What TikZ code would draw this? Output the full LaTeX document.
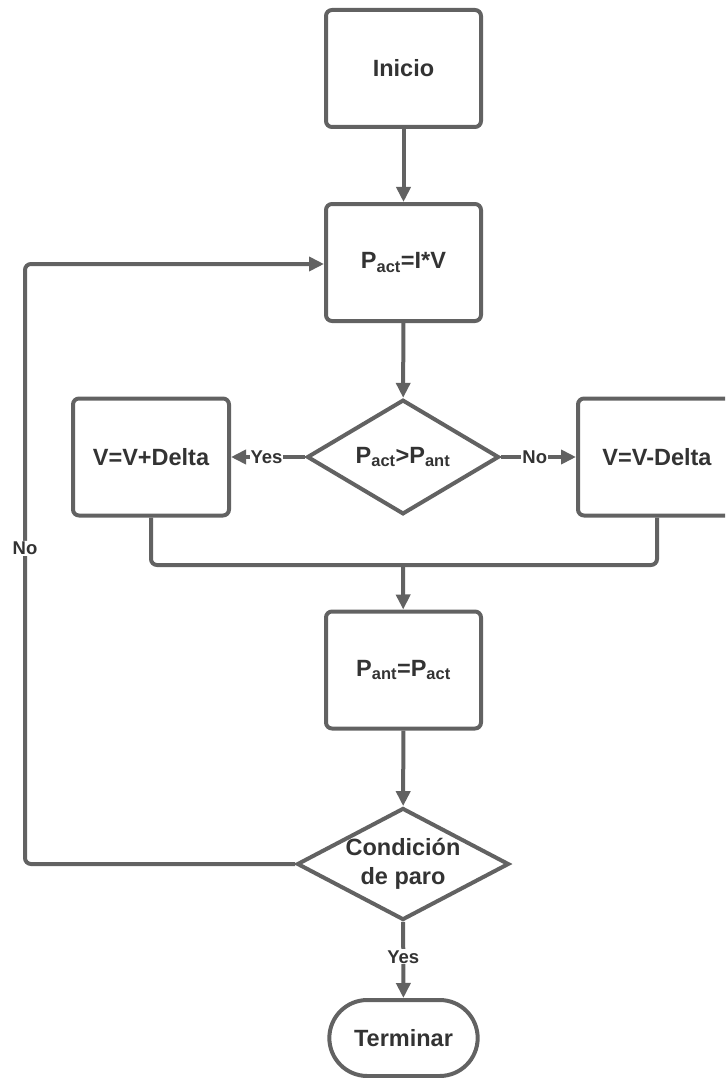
\documentclass[tikz,border=0pt]{standalone}
\usepackage{fontspec}
\setmainfont{Liberation Sans}
\usetikzlibrary{arrows.meta,shapes.geometric,shapes.misc}
\definecolor{linegray}{HTML}{626262}
\definecolor{textgray}{HTML}{333333}

\begin{document}
\begin{tikzpicture}[x=1pt,y=-1pt,
  line width=4pt, draw=linegray,
  >={Triangle[length=15pt,width=14pt]},
  every node/.style={font=\fontsize{23.5}{27}\selectfont\bfseries, text=textgray},
  procbox/.style={draw=linegray, rounded corners=6pt, minimum width=155pt, minimum height=117pt, inner sep=0pt},
  decision/.style={draw=linegray, diamond, inner sep=0pt, align=center},
  terminal/.style={draw=linegray, rounded rectangle, minimum width=155pt, minimum height=76pt},
  lbl/.style={fill=white, inner sep=1pt, font=\fontsize{18.5}{21}\selectfont\bfseries}]
\useasboundingbox (0,0) rectangle (725,1078);
\clip (0,0) rectangle (725,1078);
\node[procbox] (start) at (403.5,68.5) {Inicio};
\node[procbox] (act) at (403.5,262.5) {P\textsubscript{act}=I*V};
\node[decision, minimum width=192pt, minimum height=114pt] (cmp) at (403,457) {P\textsubscript{act}>P\textsubscript{ant}};
\node[procbox, minimum width=156pt] (vplus) at (151,457) {V=V+Delta};
\node[procbox, minimum width=158pt] (vminus) at (657,457) {V=V-Delta};
\node[procbox] (ant) at (403.5,670) {P\textsubscript{ant}=P\textsubscript{act}};
\node[decision, aspect=1.9, minimum width=210pt, minimum height=112pt] (stop) at (403,864) {Condición\\[2pt]de paro};
\node[terminal] (fin) at (403.5,1038) {Terminar};
\coordinate (merge) at (403,565);
\coordinate (back) at (25,264);

\draw[->] (start) -- (act);
\draw[->] (act) -- (cmp);
\draw[->] (cmp) -- node[lbl, pos=0.52] {Yes} (vplus);
\draw[->] (cmp) -- node[lbl, pos=0.45] {No} (vminus);
\draw[rounded corners=6pt] (vplus.south) |- (merge) -| (vminus.south);
\draw[->] (merge) -- (ant);
\draw[->] (ant) -- (stop);
\draw[->] (stop) -- node[lbl, pos=0.46] {Yes} (fin);
\draw[->, rounded corners=6pt] (stop.west) -| node[lbl, pos=0.763] {No} (back) -- (back -| act.west);
\end{tikzpicture}
\end{document}
